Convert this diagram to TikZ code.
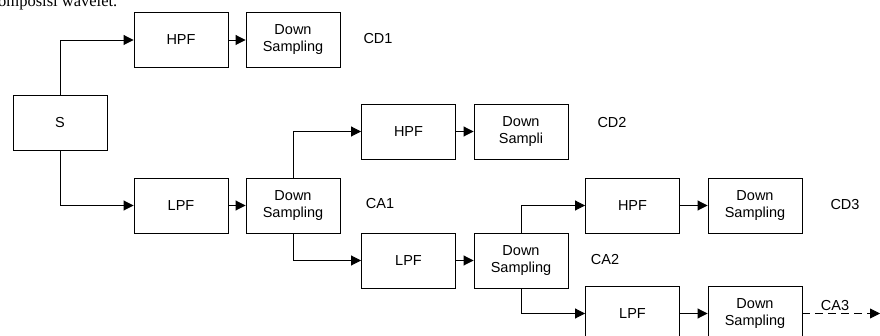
\documentclass[tikz,border=0pt]{standalone}
\usepackage{fontspec}
\setmainfont{Liberation Sans}
\newfontfamily\pageserif{Liberation Serif}
\usetikzlibrary{arrows.meta}
\tikzset{
  blk/.style={draw, line width=0.9pt, minimum width=94pt, minimum height=55pt, inner sep=1pt,
    align=center, font=\fontsize{14.5}{17}\selectfont},
  lbl/.style={font=\fontsize{14.5}{17}\selectfont},
  arr/.style={line width=0.9pt, -{Triangle[length=10pt,width=10pt]}},
}
\begin{document}
\begin{tikzpicture}[x=1pt, y=-1pt]
  \useasboundingbox (0, 0) rectangle (880, 336);
  \clip (0, 0) rectangle (880, 336);

  % page text cut off at the top
  \node[font=\pageserif\fontsize{16.5}{18}\selectfont, anchor=base west, inner sep=0pt] (pagetxt) at (-2, 6.5) {omposisi wavelet.};

  % signal
  \node[blk] (s) at (60, 123) {S};

  % level 1
  \node[blk] (hpfA) at (181, 40) {HPF};
  \node[blk] (dsA) at (293, 40) {Down\\Sampling};
  \node[lbl] (cdA) at (378, 39) {CD1};
  \node[blk] (lpfA) at (181, 205.5) {LPF};
  \node[blk] (dsB) at (293, 205.5) {Down\\Sampling};
  \node[lbl] (caA) at (380, 204) {CA1};

  % level 2
  \node[blk] (hpfB) at (408.5, 131.5) {HPF};
  \node[blk] (dsC) at (521, 131.5) {Down\\Sampli};
  \node[lbl] (cdB) at (612, 123) {CD2};
  \node[blk] (lpfB) at (408.5, 260.5) {LPF};
  \node[blk] (dsD) at (521, 260.5) {Down\\Sampling};
  \node[lbl] (caB) at (605, 260) {CA2};

  % level 3
  \node[blk] (hpfC) at (632.5, 205.5) {HPF};
  \node[blk] (dsE) at (755, 205.5) {Down\\Sampling};
  \node[lbl] (cdC) at (845, 205) {CD3};
  \node[blk] (lpfC) at (632.5, 313.5) {LPF};
  \node[blk] (dsF) at (755, 313.5) {Down\\Sampling};
  \coordinate (caEnd) at (880, 313.5);

  % connectors
  \draw[arr] (s.north) |- (hpfA.west);
  \draw[arr] (s.south) |- (lpfA.west);
  \draw[arr] (hpfA) -- (dsA);
  \draw[arr] (lpfA) -- (dsB);
  \draw[arr] (dsB.north) |- (hpfB.west);
  \draw[arr] (dsB.south) |- (lpfB.west);
  \draw[arr] (hpfB) -- (dsC);
  \draw[arr] (lpfB) -- (dsD);
  \draw[arr] (dsD.north) |- (hpfC.west);
  \draw[arr] (dsD.south) |- (lpfC.west);
  \draw[arr] (hpfC) -- (dsE);
  \draw[arr] (lpfC) -- (dsF);
  \draw[arr, dashed, dash pattern=on 8pt off 5pt] (dsF.east) -- node[lbl, above, pos=0.42, yshift=-1pt] (caC) {CA3} (caEnd);
\end{tikzpicture}
\end{document}
